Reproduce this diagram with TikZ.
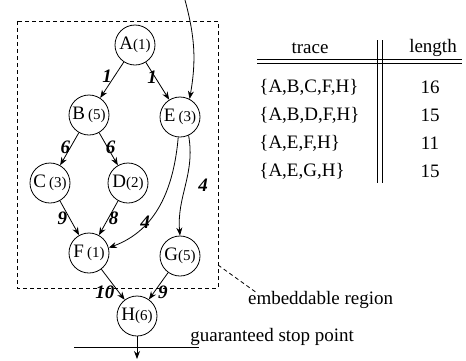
\documentclass[tikz,border=0pt]{standalone}
\usepackage{fontspec}
\setmainfont{Liberation Serif}
\usepackage{tikz}
\usetikzlibrary{calc,positioning,arrows.meta}
\tikzstyle{arrow} = [->,>={Stealth[length=4pt,width=3pt]}]
\tikzstyle{task} = [draw,circle,minimum size=20pt,inner sep=0pt]
\tikzstyle{cost} = [font=\fontsize{9.5}{11}\selectfont\bfseries\itshape,inner sep=1pt]
\tikzstyle{region} = [dash pattern=on 2pt off 1.5pt]
\newcommand{\wcet}[1]{{\fontsize{7.5}{9}\selectfont(#1)}}
\tikzset{
	x=0.5pt, y=-0.5pt,
	every node/.append style={font=\fontsize{9.5}{11}\selectfont},
	line width=0.45pt,
}

\begin{document}
\begin{tikzpicture}
        \useasboundingbox (0,0) rectangle (466,360);

        % graph
        \node[task] (A) at (135,45) {A\wcet{1}};
        \node[task] (B) at (89,115) {B\,\wcet{5}};
        \node[task] (E) at (180,117) {E\,\wcet{3}};
        \node[task] (C) at (50,183) {C\,\wcet{3}};
        \node[task] (D) at (128,183) {D\wcet{2}};
        \node[task] (F) at (89,253) {F\,\wcet{1}};
        \node[task] (G) at (180,256) {G\wcet{5}};
        \node[task] (H) at (137,316) {H\wcet{6}};

        \coordinate (in) at (185,0);
        \coordinate (out) at (137,359);

        \draw[arrow] (in) to[out=-75, in=80] (E.62);
        \draw[arrow] (A) -- (B) node[cost, pos=0.4, left] {1};
        \draw[arrow] (A) -- (E) node[cost, pos=0.4, left, xshift=2pt] {1};
        \draw[arrow] (B) -- (C) node[cost, pos=0.45, left, xshift=1pt] {6};
        \draw[arrow] (B) -- (D) node[cost, pos=0.45, right, xshift=-2pt] {6};
        \draw[arrow] (C) -- (F) node[cost, pos=0.5, left] {9};
        \draw[arrow] (D) -- (F) node[cost, pos=0.5, right, xshift=-1pt] {8};
        \draw[arrow] (E.-95) to[out=-95, in=20] (F.15);
        \node[cost] at (145,222) {4};
        \draw[arrow] (E.-65) to[out=-80, in=95] (G.north);
        \node[cost] at (203,185) {4};
        \draw[arrow] (F) -- (H) node[cost, pos=0.75, left, xshift=-1pt] {10};
        \draw[arrow] (G) -- (H) node[cost, pos=0.75, right, xshift=1pt] {9};
        \draw[arrow] (H) -- (out);

        % embeddable region
        \draw[region] (17,21) rectangle (218,288);
        \coordinate (corner) at (218,265);
        \node[anchor=west] (embed) at (241,300) {embeddable region};
        \draw[region] (corner) -- (257,293);

        % stop point
        \coordinate (stopL) at (74,347);
        \coordinate (stopR) at (199,347);
        \draw (stopL) -- (stopR);
        \node[anchor=base west, inner sep=0pt] (stop) at (190,341) {guaranteed stop point};

        % table
        \node (trace) at (310,48) {trace};
        \node (length) at (433,48) {length};
        \draw (257,59) -- (462,59);
        \draw (257,63) -- (462,63);
        \draw (377,40) -- (377,183);
        \draw (382,40) -- (382,183);
        \node[anchor=west, inner sep=0pt] (t1) at (259,87) {\{A,B,C,F,H\}};
        \node[anchor=west, inner sep=0pt] (t2) at (259,115) {\{A,B,D,F,H\}};
        \node[anchor=west, inner sep=0pt] (t3) at (259,143) {\{A,E,F,H\}};
        \node[anchor=west, inner sep=0pt] (t4) at (259,171) {\{A,E,G,H\}};
        \node (l1) at (430,87) {16};
        \node (l2) at (430,115) {15};
        \node (l3) at (430,143) {11};
        \node (l4) at (430,171) {15};
    \end{tikzpicture}
\end{document}
